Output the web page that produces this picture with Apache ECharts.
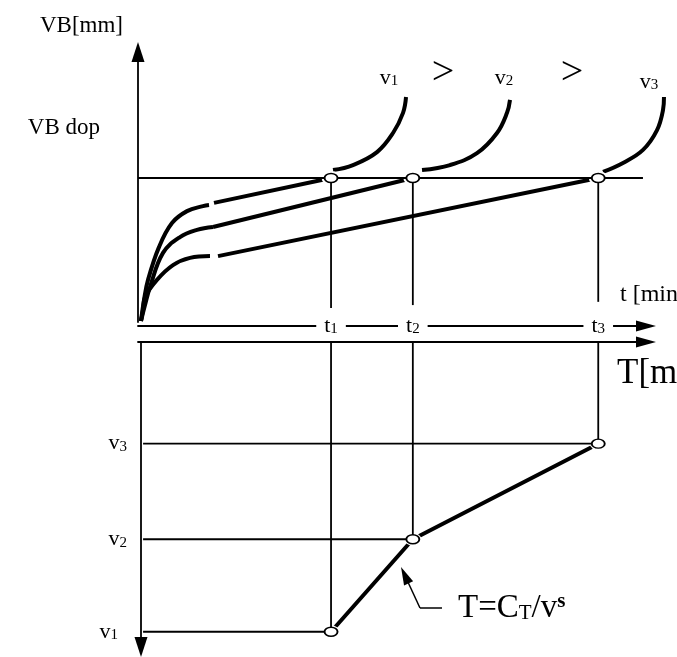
<!DOCTYPE html>
<html>
<head>
<meta charset="utf-8">
<script src="https://cdn.jsdelivr.net/npm/echarts@6/dist/echarts.min.js"></script>
<style>
  html, body { margin: 0; padding: 0; background: #fff; }
  #chart { width: 677px; height: 657px; }
</style>
</head>
<body>
<div id="chart"></div>
<script>
// Tool life t1, t2, t3 [min] at the admissible flank wear, one per cutting speed
const toolLife = [38.0, 54.1, 90.6];
// Cutting speeds v1 > v2 > v3 (drawn downwards on the lower axis)
const speeds = [285, 194, 100];
const speedIds = ['1', '2', '3'];
// Admissible flank wear VB dop [mm] and where its guide line ends [min]
const vbDop = 0.40;
const vbDopEnd = 99.4;

// Wear curves VB(t): run-in part
const runIn1 = [[0.59, 0.003], [1.18, 0.061], [1.97, 0.117], [4.13, 0.208], [6.69, 0.275], [9.65, 0.308], [12.80, 0.322], [13.98, 0.325]];
const runIn2 = [[0.59, 0.003], [1.38, 0.047], [2.36, 0.097], [4.92, 0.192], [8.27, 0.236], [11.61, 0.256], [14.76, 0.264]];
const runIn3 = [[0.59, 0.003], [0.98, 0.033], [1.38, 0.069], [3.74, 0.117], [6.89, 0.158], [10.24, 0.178], [14.17, 0.183]];
// Steady wear part: starts here, ends at (tool life, VB dop)
const steadyStart = [[14.96, 0.331], [14.76, 0.264], [15.75, 0.183]];
// Accelerated wear after VB dop is exceeded
const rapid1 = [[38.39, 0.422], [42.32, 0.436], [47.05, 0.472], [50.20, 0.525], [52.17, 0.581], [52.76, 0.625]];
const rapid2 = [[55.91, 0.422], [61.42, 0.436], [66.73, 0.469], [70.67, 0.525], [72.64, 0.581], [73.23, 0.617]];
const rapid3 = [[91.54, 0.417], [95.47, 0.442], [99.41, 0.478], [102.17, 0.533], [103.35, 0.589], [103.54, 0.625]];
// Lower ends of the projection lines in the wear plot [mm]
const dropEnds = [0.039, 0.047, 0.056];
// Leader from the formula to the T(v) line: (T, v) points
const leader = [[59.84, 261.6], [55.51, 261.6], [52.52, 229.4]];

const FONT = "'Liberation Serif', 'Times New Roman', serif";
const BLACK = '#000';
const thinLine = { color: BLACK, width: 1.8 };
const thickLine = { color: BLACK, width: 4 };

// grid indices: 0 = wear plot axes, 1 = tool-life plot, 2 = wear plot drawing layer
// (same scale as 0, only wider so the last wear curve can run past the t arrow)
const WEAR = 2;
const LIFE = 1;

const subRich = {
  m: { fontFamily: FONT, fontSize: 22, color: BLACK },
  s: { fontFamily: FONT, fontSize: 15, color: BLACK, verticalAlign: 'bottom', lineHeight: 10 },
  gap: { width: 9 }
};

function lineSeries(grid, data, style, extra) {
  return Object.assign({
    type: 'line', xAxisIndex: grid, yAxisIndex: grid, data: data,
    symbol: 'none', silent: true, clip: false, animation: false,
    lineStyle: style, z: 2
  }, extra || {});
}

function dotSeries(grid, data, size, itemStyle, z, extra) {
  return Object.assign({
    type: 'scatter', xAxisIndex: grid, yAxisIndex: grid, data: data,
    symbol: 'circle', symbolSize: size, itemStyle: Object.assign({ opacity: 1 }, itemStyle),
    silent: true, clip: false, animation: false, z: z
  }, extra || {});
}

const series = [];

// ---- upper plot: flank wear VB versus time t ----
const runIns = [runIn1, runIn2, runIn3];
const rapids = [rapid1, rapid2, rapid3];
runIns.forEach(function (d, i) {
  series.push(lineSeries(WEAR, d, thickLine, { smooth: 0.4 }));
  series.push(lineSeries(WEAR, [steadyStart[i], [toolLife[i], vbDop]], thickLine));
  series.push(lineSeries(WEAR, rapids[i], thickLine, { smooth: 0.4 }));
});
const wearPoints = toolLife.map(function (t) { return [t, vbDop]; });
series.push(dotSeries(WEAR, wearPoints, [19, 14], { color: '#fff' }, 3));
series.push(lineSeries(WEAR, [[0, vbDop], [vbDopEnd, vbDop]], thinLine, { z: 4 }));
toolLife.forEach(function (t, i) {
  series.push(lineSeries(WEAR, [[t, vbDop], [t, dropEnds[i]]], thinLine, { z: 4 }));
});
series.push(dotSeries(WEAR, wearPoints, [13, 9], { color: '#fff', borderColor: BLACK, borderWidth: 1.6 }, 5));

// VB dop caption on the wear limit
series.push(dotSeries(WEAR, [[0, vbDop]], 0, { color: BLACK }, 6, {
  label: {
    show: true, position: 'left', distance: 38, offset: [0, -50],
    formatter: 'VB dop', fontFamily: FONT, fontSize: 23, color: BLACK
  }
}));

// speed captions at the top of each wear curve
const topLabelOffsets = [[-17, -19], [-6, -22], [-15, -15]];
rapids.forEach(function (d, i) {
  series.push(dotSeries(WEAR, [d[d.length - 1]], 0, { color: BLACK }, 6, {
    label: {
      show: true, position: 'inside', offset: topLabelOffsets[i],
      formatter: '{m|v}{s|' + speedIds[i] + '}', rich: subRich
    }
  }));
});

// ---- lower plot: cutting speed v versus tool life T ----
const lifePoints = toolLife.map(function (t, i) { return [t, speeds[i]]; });
series.push(lineSeries(LIFE, lifePoints, thickLine, {
  markLine: {
    silent: true, animation: false,
    symbol: ['none', 'none'],
    label: { show: false },
    lineStyle: { color: BLACK, width: 1.5, type: 'solid' },
    data: [
      [{ coord: leader[0], symbol: 'none' }, { coord: leader[1], symbol: 'none' }],
      [{ coord: leader[1], symbol: 'none' }, { coord: leader[2], symbol: 'triangle', symbolSize: [10, 18] }]
    ]
  }
}));
series.push(dotSeries(LIFE, lifePoints, [17, 13], { color: '#fff' }, 3));
toolLife.forEach(function (t, i) {
  series.push(lineSeries(LIFE, [[t, 0], [t, speeds[i]]], thinLine, { z: 4 }));
  series.push(lineSeries(LIFE, [[1, speeds[i]], [t, speeds[i]]], thinLine, { z: 4 }));
});
series.push(dotSeries(LIFE, lifePoints, [13, 9], { color: '#fff', borderColor: BLACK, borderWidth: 1.6 }, 5));

// Taylor relation caption
series.push(dotSeries(LIFE, [leader[0]], 0, { color: BLACK }, 6, {
  label: {
    show: true, position: 'right', distance: 16,
    formatter: '{b|T=C}{bs|T}{b|/v}{bp|s}',
    rich: {
      b: { fontFamily: FONT, fontSize: 33, color: BLACK },
      bs: { fontFamily: FONT, fontSize: 21, color: BLACK, verticalAlign: 'bottom', lineHeight: 14 },
      bp: { fontFamily: FONT, fontSize: 21, fontWeight: 'bold', color: BLACK, verticalAlign: 'top', lineHeight: 18 }
    }
  }
}));

const axisLineStyle = { color: BLACK, width: 1.8 };
const hiddenAxis = { show: false };

const option = {
  backgroundColor: '#fff',
  animation: false,
  textStyle: { fontFamily: FONT },
  grid: [
    { left: 138, top: 52, width: 508, height: 270, containLabel: false, outerBoundsMode: 'none' },
    { left: 138, top: 342, width: 508, height: 305, containLabel: false, outerBoundsMode: 'none' },
    { left: 138, top: 52, width: 558.8, height: 270, containLabel: false, outerBoundsMode: 'none' }
  ],
  xAxis: [
    {
      gridIndex: 0, type: 'value', min: 0, max: 100, offset: 4,
      axisLine: { show: true, onZero: false, lineStyle: axisLineStyle, symbol: ['none', 'triangle'], symbolSize: [11, 20] },
      axisTick: { show: false }, splitLine: { show: false },
      axisLabel: {
        show: true, customValues: toolLife, margin: -12,
        backgroundColor: '#fff', padding: [1, 8],
        formatter: function (v) {
          const i = toolLife.indexOf(v);
          return '{m|t}{s|' + speedIds[i] + '}';
        },
        rich: subRich
      },
      name: 't [min]', nameLocation: 'end', nameGap: -26,
      nameTextStyle: { fontFamily: FONT, fontSize: 24, color: BLACK, align: 'left', verticalAlign: 'bottom', padding: [0, 0, 19, 0] }
    },
    {
      gridIndex: 1, type: 'value', min: 0, max: 100, position: 'top',
      axisLine: { show: true, onZero: false, lineStyle: axisLineStyle, symbol: ['none', 'triangle'], symbolSize: [11, 20] },
      axisTick: { show: false }, splitLine: { show: false }, axisLabel: { show: false },
      name: 'T[min]', nameLocation: 'end', nameGap: -29,
      nameTextStyle: { fontFamily: FONT, fontSize: 35, color: BLACK, align: 'left', verticalAlign: 'top', padding: [14, 0, 0, 0] }
    },
    Object.assign({ gridIndex: 2, type: 'value', min: 0, max: 110 }, hiddenAxis)
  ],
  yAxis: [
    {
      gridIndex: 0, type: 'value', min: 0, max: 0.75,
      axisLine: { show: true, onZero: false, lineStyle: axisLineStyle, symbol: ['none', 'triangle'], symbolSize: [13, 20] },
      axisTick: { show: false }, splitLine: { show: false }, axisLabel: { show: false },
      name: 'VB[mm]', nameLocation: 'end', nameGap: 15,
      nameTextStyle: { fontFamily: FONT, fontSize: 23, color: BLACK, align: 'right', verticalAlign: 'bottom', padding: [0, 15, 0, 0] }
    },
    {
      gridIndex: 1, type: 'value', min: 0, max: 300, inverse: true, offset: -3,
      axisLine: { show: true, onZero: false, lineStyle: axisLineStyle, symbol: ['triangle', 'none'], symbolSize: [13, 20] },
      axisTick: { show: false }, splitLine: { show: false },
      axisLabel: {
        show: true, customValues: speeds, margin: 14,
        formatter: function (v) {
          const i = speeds.indexOf(v);
          // the v1 caption sits a little further out from the axis
          return '{m|v}{s|' + speedIds[i] + '}' + (i === 0 ? '{gap| }' : '');
        },
        rich: subRich
      }
    },
    Object.assign({ gridIndex: 2, type: 'value', min: 0, max: 0.75 }, hiddenAxis)
  ],
  graphic: [
    { type: 'text', x: 443, y: 73, silent: true, style: { text: '>', fontFamily: FONT, fontSize: 40, fill: BLACK, align: 'center', verticalAlign: 'middle' } },
    { type: 'text', x: 572, y: 73, silent: true, style: { text: '>', fontFamily: FONT, fontSize: 40, fill: BLACK, align: 'center', verticalAlign: 'middle' } }
  ],
  series: series
};

const chart = echarts.init(document.getElementById('chart'), null, { renderer: 'canvas' });
chart.setOption(option);
</script>
</body>
</html>
